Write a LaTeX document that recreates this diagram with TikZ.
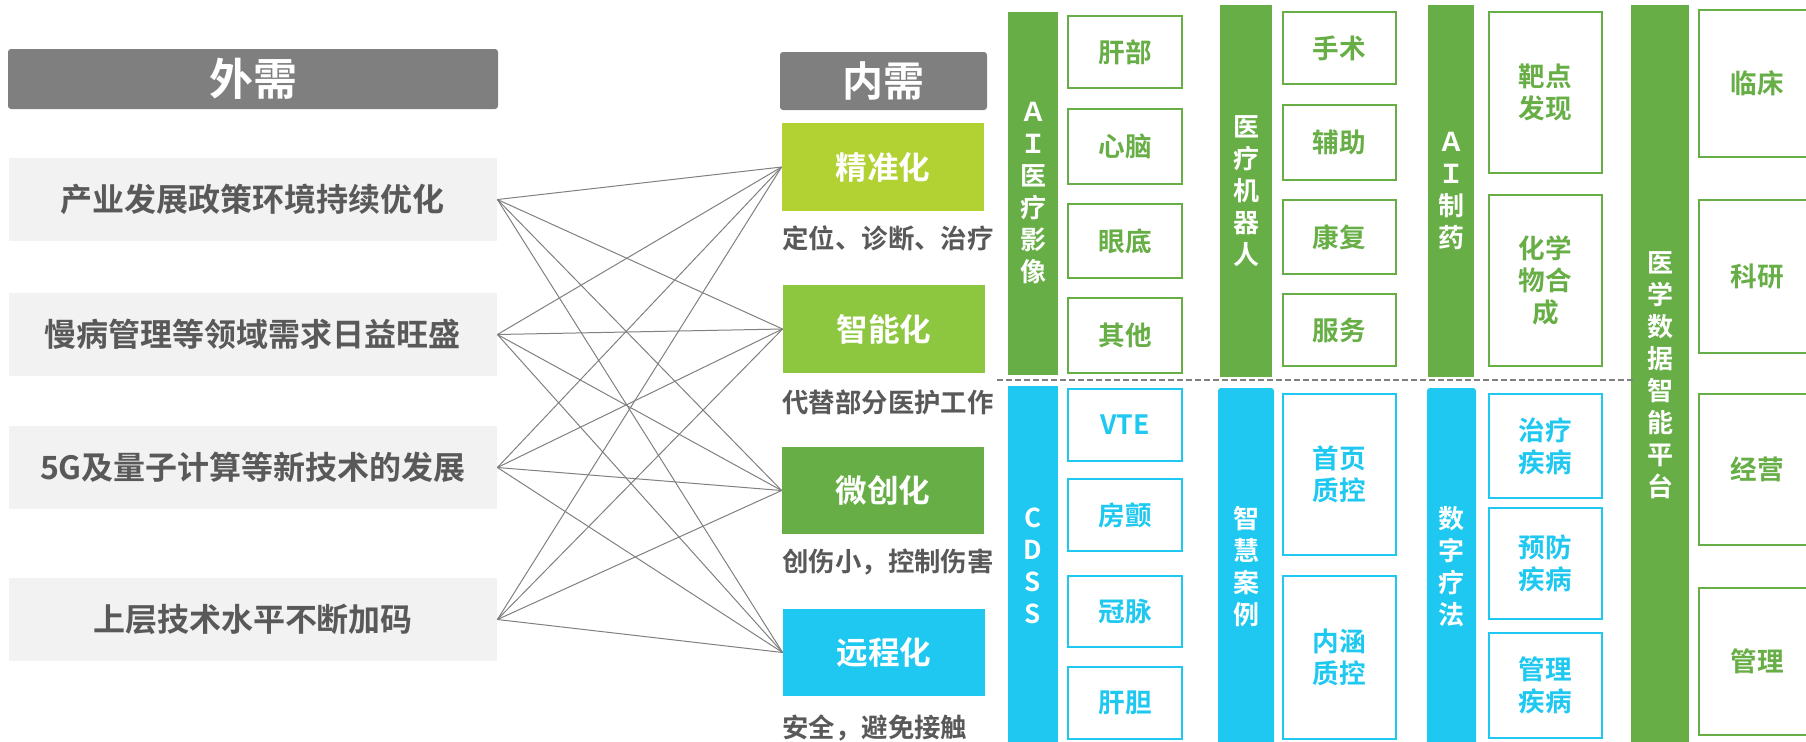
\documentclass[tikz,border=0pt]{standalone}
\usepackage{fontspec}
\setmainfont{Noto Sans CJK SC}[BoldFont={Noto Sans CJK SC Bold}]
\definecolor{hdrgray}{RGB}{127,127,127}
\definecolor{lgray}{RGB}{242,242,242}
\definecolor{dtext}{RGB}{89,89,89}
\definecolor{lime}{RGB}{178,210,52}
\definecolor{midgr}{RGB}{141,198,63}
\definecolor{gr}{RGB}{102,174,69}
\definecolor{bl}{RGB}{31,200,240}
\definecolor{linegray}{RGB}{128,128,128}
\tikzset{
 hdr/.style={fill=hdrgray, rounded corners=1.5pt, inner sep=0pt, text=white},
 lbox/.style={fill=lgray, inner sep=0pt, minimum width=244pt, minimum height=41.5pt, text=dtext, font=\bfseries\fontsize{16}{18}\selectfont},
 mbox/.style={inner sep=0pt, minimum width=101pt, text=white, font=\bfseries\fontsize{15.8}{18}\selectfont},
 mlabel/.style={anchor=west, inner sep=0pt, text=dtext, font=\bfseries\fontsize{13.2}{15}\selectfont},
 bar/.style={inner sep=0pt, text=white, align=center, font=\bfseries\fontsize{13}{16}\selectfont},
 gbar/.style={bar, fill=gr},
 bbar/.style={bar, fill=bl},
 sub/.style={line width=1pt, inner sep=0pt, align=center, font=\bfseries\fontsize{13.3}{16}\selectfont},
 gsub/.style={sub, draw=gr, text=gr},
 bsub/.style={sub, draw=bl, text=bl},
 link/.style={draw=linegray, line width=0.5pt},
 sep/.style={draw=linegray, line width=0.7pt, dash pattern=on 3pt off 1.5pt},
}
\begin{document}
\begin{tikzpicture}[x=0.5pt,y=-0.5pt]
\useasboundingbox (0,0) rectangle (1806,741);
\clip (0,0) rectangle (1806,741);
% left side
\node[hdr, minimum width=245pt, minimum height=30pt, font=\bfseries\fontsize{22}{24}\selectfont] (H1) at (253,79) {外需};
\node[lbox] (L1) at (253,199.5) {产业发展政策环境持续优化};
\node[lbox] (L2) at (253,334.5) {慢病管理等领域需求日益旺盛};
\node[lbox] (L3) at (253,467.5) {5G及量子计算等新技术的发展};
\node[lbox] (L4) at (253,619.5) {上层技术水平不断加码};
% middle
\node[hdr, minimum width=103.5pt, minimum height=29pt, font=\bfseries\fontsize{20.5}{23}\selectfont] (H2) at (883.5,81) {内需};
\node[mbox, fill=lime, minimum height=44pt] (M1) at (883,167) {精准化};
\node[mbox, fill=midgr, minimum height=44pt] (M2) at (884,329) {智能化};
\node[mbox, fill=gr, minimum height=43.5pt] (M3) at (883,490.5) {微创化};
\node[mbox, fill=bl, minimum height=43.5pt] (M4) at (884,652.5) {远程化};
\node[mlabel] (T1) at (782,238) {定位、诊断、治疗};
\node[mlabel] (T2) at (782,402) {代替部分医护工作};
\node[mlabel] (T3) at (782,562) {创伤小，控制伤害};
\node[mlabel] (T4) at (782,728) {安全，避免接触};
% links
\foreach \l in {L1,L2,L3,L4}{
  \foreach \m in {M1,M2,M3,M4}{
    \draw[link] (\l.east) -- (\m.west);
  }
}
% top row: AI imaging
\node[gbar, minimum width=25pt, minimum height=181.5pt] (B1) at (1033,193.5) {Ａ\\Ｉ\\医\\疗\\影\\像};
\node[gsub, minimum width=57pt, minimum height=36pt] (B1a) at (1125,52) {肝部};
\node[gsub, minimum width=57pt, minimum height=37.5pt] (B1b) at (1125,146.5) {心脑};
\node[gsub, minimum width=57pt, minimum height=37pt] (B1c) at (1125,241) {眼底};
\node[gsub, minimum width=57pt, minimum height=37.5pt] (B1d) at (1125,335.5) {其他};
% medical robots
\node[gbar, minimum width=26pt, minimum height=186pt] (B2) at (1246,191) {医\\疗\\机\\器\\人};
\node[gsub, minimum width=56.5pt, minimum height=36pt] (B2a) at (1339.5,48) {手术};
\node[gsub, minimum width=56.5pt, minimum height=37.5pt] (B2b) at (1339.5,142.5) {辅助};
\node[gsub, minimum width=56.5pt, minimum height=37pt] (B2c) at (1339.5,237) {康复};
\node[gsub, minimum width=56.5pt, minimum height=36pt] (B2d) at (1339.5,330) {服务};
% AI pharma
\node[gbar, minimum width=23pt, minimum height=186pt] (B3) at (1451,191) {Ａ\\Ｉ\\制\\药};
\node[gsub, minimum width=56.5pt, minimum height=80.5pt] (B3a) at (1545.5,92.5) {靶点\\发现};
\node[gsub, minimum width=56.5pt, minimum height=85.5pt] (B3b) at (1545.5,280.5) {化学\\物合\\成};
% medical data platform
\node[gbar, minimum width=29pt, minimum height=370pt] (B4) at (1660,375) {医\\学\\数\\据\\智\\能\\平\\台};
\node[gsub, minimum width=58pt, minimum height=73.5pt] (B4a) at (1757,83.5) {临床};
\node[gsub, minimum width=58pt, minimum height=76.5pt] (B4b) at (1757,276.5) {科研};
\node[gsub, minimum width=58pt, minimum height=75.5pt] (B4c) at (1757,469.5) {经营};
\node[gsub, minimum width=58pt, minimum height=73.5pt] (B4d) at (1757,661.5) {管理};
% separator
\coordinate (S1) at (997,380);
\coordinate (S2) at (1635,380);
\draw[sep] (S1) -- (S2);
% bottom row: CDSS
\node[bbar, minimum width=25pt, minimum height=179.5pt] (C1) at (1033,565.5) {C\\D\\S\\S};
\node[bsub, minimum width=57pt, minimum height=36pt] (C1a) at (1125,425) {VTE};
\node[bsub, minimum width=57pt, minimum height=36pt] (C1b) at (1125,515) {房颤};
\node[bsub, minimum width=57pt, minimum height=35.5pt] (C1c) at (1125,611.5) {冠脉};
\node[bsub, minimum width=57pt, minimum height=36pt] (C1d) at (1125,703) {肝胆};
% smart cases
\node[bbar, rounded corners=1.5pt, minimum width=28pt, minimum height=178.5pt] (C2) at (1246,566.5) {智\\慧\\案\\例};
\node[bsub, minimum width=56.5pt, minimum height=80.5pt] (C2a) at (1339.5,474.5) {首页\\质控};
\node[bsub, minimum width=56.5pt, minimum height=81.5pt] (C2b) at (1339.5,657.5) {内涵\\质控};
% digital therapy
\node[bbar, rounded corners=1.5pt, minimum width=24.5pt, minimum height=178.5pt] (C3) at (1451.5,566.5) {数\\字\\疗\\法};
\node[bsub, minimum width=56.5pt, minimum height=52pt] (C3a) at (1545.5,446) {治疗\\疾病};
\node[bsub, minimum width=56.5pt, minimum height=55.5pt] (C3b) at (1545.5,563.5) {预防\\疾病};
\node[bsub, minimum width=56.5pt, minimum height=52.5pt] (C3c) at (1545.5,685.5) {管理\\疾病};
\end{tikzpicture}
\end{document}
